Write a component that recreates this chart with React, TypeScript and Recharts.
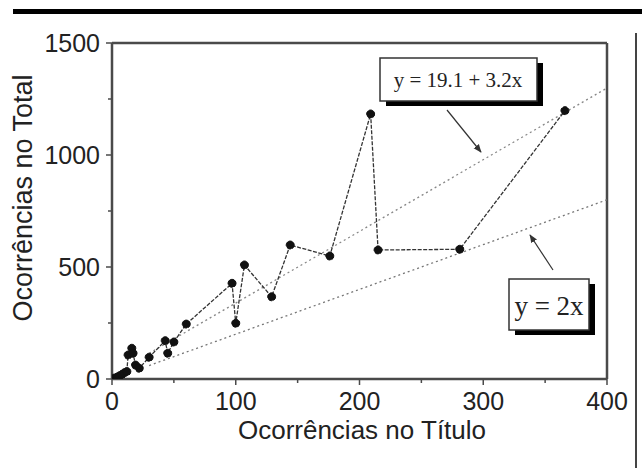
import React from "react";
import {
  ComposedChart,
  Line,
  XAxis,
  YAxis,
  ReferenceLine,
} from "recharts";

// observed points, in the order the connecting line follows
const titleCounts = [0, 2, 4, 6, 8, 10, 12, 13, 16, 17, 19, 22, 30, 43, 45, 50, 60, 97, 100, 107, 129, 144, 176, 209, 215, 281, 366];
const totalCounts = [0, 4, 8, 14, 20, 28, 33, 107, 137, 115, 62, 48, 97, 171, 115, 165, 245, 427, 249, 509, 367, 598, 549, 1183, 576, 579, 1198];

// fitted lines, end points
const fitX = [30, 400];
const fitY = [115, 1299];
const doubleX = [30, 400];
const doubleY = [60, 800];

const xTicks = [0, 50, 100, 150, 200, 250, 300, 350, 400];
const yTicks = [0, 250, 500, 750, 1000, 1250, 1500];

const points = titleCounts.map((x, i) => ({ x, y: totalCounts[i] }));
const fitLine = fitX.map((x, i) => ({ x, y: fitY[i] }));
const doubleLine = doubleX.map((x, i) => ({ x, y: doubleY[i] }));

const AXIS = "#4a4a4a";
const SANS = "'Liberation Sans', Arial, sans-serif";
const SERIF = "'Liberation Serif', 'Times New Roman', serif";

function XTick(props: any) {
  const { x, y, payload } = props;
  const major = payload.value % 100 === 0;
  return (
    <g>
      <line x1={x} x2={x} y1={y} y2={y + (major ? 6 : 4)} stroke={AXIS} strokeWidth={1.5} />
      {major && (
        <text x={x} y={y + 31} textAnchor="middle" fontFamily={SANS} fontSize={25} fill="#222">
          {payload.value}
        </text>
      )}
    </g>
  );
}

function YTick(props: any) {
  const { x, y, payload } = props;
  const major = payload.value % 500 === 0;
  return (
    <g>
      <line x1={x} x2={x - (major ? 6 : 4)} y1={y} y2={y} stroke={AXIS} strokeWidth={1.5} />
      {major && (
        <text x={x - 12} y={y} dy="0.36em" textAnchor="end" fontFamily={SANS} fontSize={25} fill="#222">
          {payload.value}
        </text>
      )}
    </g>
  );
}

function XTitle() {
  return (
    <text x={362} y={439} textAnchor="middle" fontFamily={SANS} fontSize={26} fill="#222">
      Ocorrências no Título
    </text>
  );
}

function YTitle() {
  return (
    <text
      x={0}
      y={0}
      transform="translate(32 198) rotate(-90)"
      textAnchor="middle"
      fontFamily={SANS}
      fontSize={27}
      fill="#222"
    >
      Ocorrências no Total
    </text>
  );
}

function Callout({ x, y, w, h, text, size, tx, ty }: any) {
  return (
    <g>
      <rect x={x + 6} y={y + 5} width={w} height={h} fill="#000" />
      <rect x={x} y={y} width={w} height={h} fill="#fff" stroke="#333" strokeWidth={1.5} />
      <text x={tx} y={ty} textAnchor="middle" fontFamily={SERIF} fontSize={size} fill="#222">
        {text}
      </text>
    </g>
  );
}

export default function App() {
  return (
    <div style={{ position: "absolute", left: 0, top: 0, width: 642, height: 468, background: "#fff" }}>
      <ComposedChart width={642} height={468} margin={{ top: 43, right: 35, bottom: 0, left: 0 }}>
        <XAxis
          type="number"
          dataKey="x"
          domain={[0, 400]}
          ticks={xTicks}
          interval={0}
          height={89}
          tickSize={0}
          tickMargin={0}
          tick={<XTick />}
          axisLine={{ stroke: AXIS, strokeWidth: 2.5 }}
          label={<XTitle />}
          allowDataOverflow
        />
        <YAxis
          type="number"
          dataKey="y"
          domain={[0, 1500]}
          ticks={yTicks}
          interval={0}
          width={112}
          tickSize={0}
          tickMargin={0}
          tick={<YTick />}
          axisLine={{ stroke: AXIS, strokeWidth: 2.5 }}
          label={<YTitle />}
          allowDataOverflow
        />
        <ReferenceLine y={1500} stroke={AXIS} strokeWidth={2.5} ifOverflow="visible" />
        <ReferenceLine x={400} stroke={AXIS} strokeWidth={2.5} ifOverflow="visible" />
        <Line
          data={fitLine}
          dataKey="y"
          stroke="#888"
          strokeWidth={1.3}
          strokeDasharray="2 3"
          dot={false}
          isAnimationActive={false}
        />
        <Line
          data={doubleLine}
          dataKey="y"
          stroke="#777"
          strokeWidth={1.3}
          strokeDasharray="2 3"
          dot={false}
          isAnimationActive={false}
        />
        <Line
          data={points}
          dataKey="y"
          stroke="#333"
          strokeWidth={1.3}
          strokeDasharray="4 1.5"
          dot={{ r: 4, fill: "#111", stroke: "#111", strokeWidth: 1 }}
          isAnimationActive={false}
        />
      </ComposedChart>
      <svg
        width={642}
        height={468}
        style={{ position: "absolute", left: 0, top: 0, pointerEvents: "none" }}
      >
        <defs>
          <marker id="head" viewBox="0 0 10 10" refX="9" refY="5" markerWidth="7" markerHeight="7" orient="auto">
            <path d="M0,1 L10,5 L0,9 z" fill="#333" />
          </marker>
        </defs>
        <rect x={13} y={9} width={629} height={5} fill="#000" />
        <line x1={636} x2={636} y1={33} y2={468} stroke="#444" strokeWidth={2} />
        <Callout x={380} y={58} w={157} h={43} text="y = 19.1 + 3.2x" size={21} tx={458} ty={87} />
        <Callout x={509} y={279} w={80} h={51} text="y = 2x" size={27} tx={549} ty={315} />
        <line x1={447} y1={110} x2={481} y2={152} stroke="#333" strokeWidth={1.2} markerEnd="url(#head)" />
        <line x1={553} y1={270} x2={530} y2={235} stroke="#333" strokeWidth={1.2} markerEnd="url(#head)" />
      </svg>
    </div>
  );
}
